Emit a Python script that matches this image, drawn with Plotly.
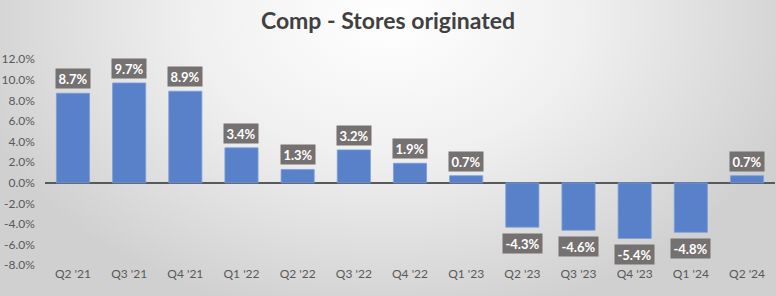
import base64
import plotly.graph_objects as go

quarters = ["Q2 '21", "Q3 '21", "Q4 '21", "Q1 '22", "Q2 '22", "Q3 '22", "Q4 '22",
            "Q1 '23", "Q2 '23", "Q3 '23", "Q4 '23", "Q1 '24", "Q2 '24"]
comp = [8.7, 9.7, 8.9, 3.4, 1.3, 3.2, 1.9, 0.7, -4.3, -4.6, -5.4, -4.8, 0.7]
y_ticks = [12, 10, 8, 6, 4, 2, 0, -2, -4, -6, -8]

W, H = 776, 296
FONT = "Lato, 'Noto Sans', sans-serif"

# background gradient image (extended beyond the page on all sides)
svg = (
    '<svg xmlns="http://www.w3.org/2000/svg" width="800" height="340" viewBox="0 0 800 340" '
    'preserveAspectRatio="none">'
    '<defs><radialGradient id="g" cx="400" cy="32" r="430" gradientUnits="userSpaceOnUse" '
    'gradientTransform="translate(400 32) scale(1 0.75) translate(-400 -32)">'
    '<stop offset="0" stop-color="#ffffff"/>'
    '<stop offset="0.45" stop-color="#f0f0f0"/>'
    '<stop offset="1" stop-color="#d0d0d0"/>'
    '</radialGradient></defs>'
    '<rect x="0" y="0" width="800" height="340" fill="url(#g)"/></svg>'
)
bg_uri = "data:image/svg+xml;base64," + base64.b64encode(svg.encode()).decode()

fig = go.Figure()
fig.add_trace(go.Bar(
    x=quarters, y=comp,
    marker=dict(color="#5881CA", line=dict(color="#7c9ed8", width=0.8)),
    width=0.59,
    hoverinfo="skip",
))

for q, v in zip(quarters, comp):
    txt = f"{v:.1f}%"
    fig.add_annotation(
        x=q, y=v, text=f"<b>{txt}</b>", showarrow=False,
        xref="x", yref="y",
        yanchor="bottom" if v >= 0 else "top",
        yshift=4 if v >= 0 else -6,
        bgcolor="#767171",
        font=dict(family=FONT, size=13, color="white"),
        width=30 if len(txt) == 4 else 35, height=15, borderpad=2,
    )

y_top = 1 - 54 / H
y_bot = 1 - 271 / H

fig.update_layout(
    width=W, height=H,
    margin=dict(l=0, r=0, t=0, b=0),
    paper_bgcolor="#dcdcdc",
    plot_bgcolor="rgba(0,0,0,0)",
    showlegend=False,
    title=dict(
        text="<b>Comp - Stores originated</b>",
        x=0.5, xanchor="center", y=1 - 21 / H, yanchor="middle",
        font=dict(family=FONT, size=23, color="#404040"),
    ),
    images=[dict(
        source=bg_uri, xref="paper", yref="paper",
        x=-12 / W, y=1 + 22 / H,
        sizex=800 / W, sizey=340 / H, xanchor="left", yanchor="top",
        sizing="stretch", layer="below",
    )],
    xaxis=dict(
        domain=[44.9 / W, 775.1 / W],
        range=[-0.5, 12.5],
        showgrid=False, showline=False, zeroline=False,
        ticks="", tickfont=dict(family=FONT, size=12, color="#595959"),
        fixedrange=True,
    ),
    yaxis=dict(
        domain=[y_bot, y_top],
        range=[-8, 12],
        tickvals=y_ticks,
        ticktext=[f"{t:.1f}%" for t in y_ticks],
        showgrid=False, showline=False,
        zeroline=True, zerolinecolor="#595959", zerolinewidth=1.5,
        ticks="", ticklabelstandoff=9,
        tickfont=dict(family=FONT, size=12, color="#595959"),
        fixedrange=True,
    ),
)

fig.write_html("out.html", config={"displayModeBar": False})
